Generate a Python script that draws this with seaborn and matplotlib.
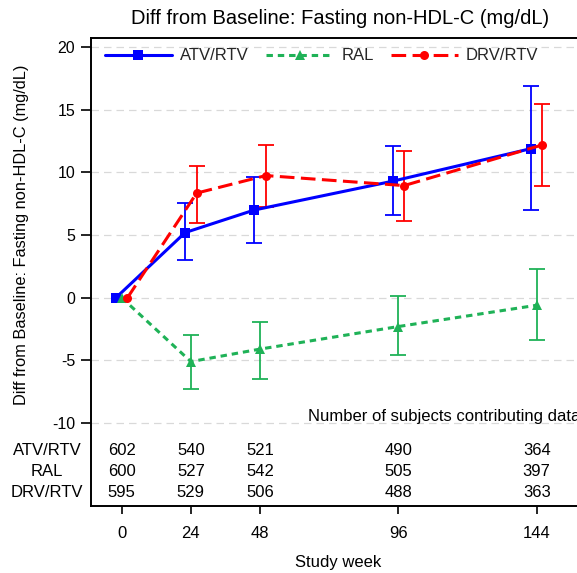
import numpy as np
import pandas as pd
import matplotlib
matplotlib.use("Agg")
import matplotlib.pyplot as plt
import seaborn as sns

# ---- data ----
weeks = [0, 24, 48, 96, 144]
groups = ["ATV/RTV", "RAL", "DRV/RTV"]
atv_mean = [0, 5.2, 7.0, 9.3, 11.9]
atv_lo = [0, 3.0, 4.4, 6.6, 7.0]
atv_hi = [0, 7.6, 9.6, 12.1, 16.9]
ral_mean = [0, -5.1, -4.1, -2.3, -0.6]
ral_lo = [0, -7.25, -6.5, -4.6, -3.4]
ral_hi = [0, -3.0, -1.9, 0.1, 2.3]
drv_mean = [0, 8.35, 9.75, 8.95, 12.2]
drv_lo = [0, 6.0, 7.25, 6.1, 8.95]
drv_hi = [0, 10.55, 12.2, 11.7, 15.45]
atv_n = [602, 540, 521, 490, 364]
ral_n = [600, 527, 542, 505, 397]
drv_n = [595, 529, 506, 488, 363]
y_ticks = [-10, -5, 0, 5, 10, 15, 20]

sns.set_theme(style="white")
plt.rcParams["font.family"] = ["Liberation Sans", "DejaVu Sans"]
plt.rcParams["axes.unicode_minus"] = False

FS = 12
fig = plt.figure(figsize=(5.77, 5.73), dpi=100)
W, H = 577, 573
L, R, T, B = 90.5, 586, 38, 505.7
ax = fig.add_axes([L / W, 1 - B / H, (R - L) / W, (B - T) / H])

colors = {"ATV/RTV": "#0000ff", "RAL": "#1fb257", "DRV/RTV": "#ff0000"}
markers = {"ATV/RTV": "s", "RAL": "^", "DRV/RTV": "o"}
styles = {"ATV/RTV": "-", "RAL": (0, (2.1, 1.6)), "DRV/RTV": (0, (4.8, 2.1))}
offsets = {"ATV/RTV": -2.0, "RAL": 0.0, "DRV/RTV": 2.0}
series = {
    "ATV/RTV": (atv_mean, atv_lo, atv_hi),
    "RAL": (ral_mean, ral_lo, ral_hi),
    "DRV/RTV": (drv_mean, drv_lo, drv_hi),
}

rows = []
for g in groups:
    m, lo, hi = series[g]
    for w, mv, l, h in zip(weeks, m, lo, hi):
        rows.append(dict(group=g, week=w, x=w + offsets[g], mean=mv, lo=l, hi=h))
df = pd.DataFrame(rows)

for g in groups:
    d = df[df.group == g]
    e = d[d.week > 0]
    ax.errorbar(e.x, e["mean"], yerr=[e["mean"] - e.lo, e.hi - e["mean"]],
                fmt="none", ecolor=colors[g], elinewidth=1.3, capsize=5.6,
                capthick=1.3, zorder=2)
    sns.lineplot(data=d, x="x", y="mean", ax=ax, color=colors[g],
                 marker=markers[g], markersize=6.5, markeredgewidth=0,
                 linestyle=styles[g], linewidth=2.2, label=g, zorder=3,
                 estimator=None, sort=False)

ax.set_xlim(-10.83, 161.1)
ax.set_ylim(-16.6, 20.73)
ax.set_yticks(y_ticks)
ax.set_xticks(weeks)
ax.set_xticklabels([str(w) for w in weeks])
ax.set_xlabel("")
ax.set_ylabel("")
for yv in y_ticks:
    ax.axhline(yv, color="#d9d9d9", lw=0.9, ls=(0, (6, 4)), zorder=0)

for s in ["left", "top", "bottom", "right"]:
    ax.spines[s].set_color("black")
    ax.spines[s].set_linewidth(1.4)
ax.tick_params(axis="y", direction="out", length=7, width=1.2, pad=4,
               labelsize=11.5, colors="black", left=True)
ax.tick_params(axis="x", direction="out", length=5.5, width=1.2, pad=9,
               labelsize=FS, colors="black", bottom=True)

# table
ax.text(64.5, -9.45, "Number of subjects contributing data", fontsize=FS,
        ha="left", va="center", color="black")
row_y = [-12.2, -13.85, -15.55]
counts = {"ATV/RTV": atv_n, "RAL": ral_n, "DRV/RTV": drv_n}
for g, yy in zip(groups, row_y):
    for w, n in zip(weeks, counts[g]):
        ax.text(w, yy, str(n), fontsize=FS, ha="center", va="center",
                color="black")
    ax.text((47 - L) / (R - L), yy, g, fontsize=FS, ha="center", va="center",
            transform=ax.get_yaxis_transform(), color="black")

leg = ax.legend(loc="center left", bbox_to_anchor=((105 - L) / (R - L), (B - 56) / (B - T)),
                ncol=3, frameon=False, fontsize=FS, handlelength=4.0,
                handletextpad=0.5, columnspacing=1.05, borderpad=0,
                borderaxespad=0)

fig.text(340 / W, 1 - 19 / H, "Diff from Baseline: Fasting non-HDL-C (mg/dL)",
         fontsize=14.5, ha="center", va="center", color="black")
fig.text(22 / W, 1 - 235 / H, "Diff from Baseline: Fasting non-HDL-C (mg/dL)",
         fontsize=11.8, ha="center", va="center", rotation=90, color="black")
fig.text(338 / W, 1 - 562 / H, "Study week", fontsize=FS, ha="center",
         va="center", color="black")

fig.savefig("out.png", dpi=100)
